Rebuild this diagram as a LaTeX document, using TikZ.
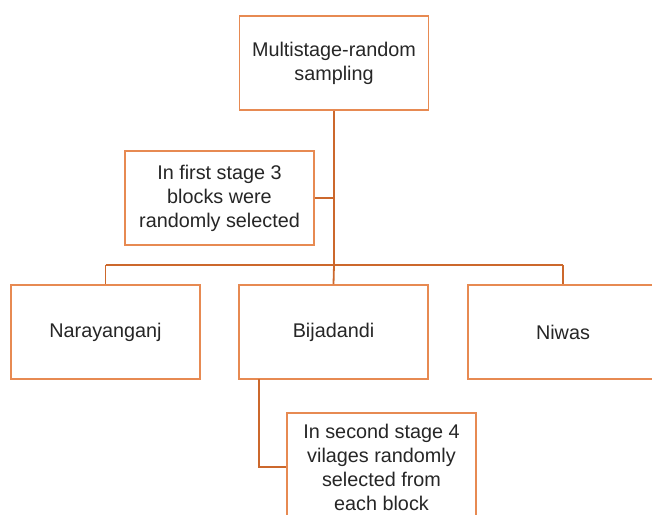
\documentclass[tikz,border=0pt]{standalone}
\usepackage{fontspec}
\setmainfont{Liberation Sans}
\definecolor{boxc}{RGB}{231,138,82}
\definecolor{linec}{RGB}{204,104,44}
\begin{document}
\begin{tikzpicture}[x=1pt,y=-1pt,
  box/.style={draw=boxc,line width=1.8pt,fill=white,minimum width=189pt,minimum height=94pt,
    align=center,inner sep=0pt,text=black!85,font=\fontsize{19.8}{24}\selectfont},
  conn/.style={draw=linec,line width=1.8pt}]
\clip (0,0) rectangle (652,514);
\fill[white] (0,0) rectangle (652,514);
\coordinate (busL) at (105.5,265);
\coordinate (busM) at (334,265);
\coordinate (busR) at (563,265);
\coordinate (bj) at (259,379);
\node[box] (top) at (334,63) {Multistage-random\\sampling};
\node[box] (first) at (219.5,198) {In first stage 3\\blocks were\\randomly selected};
\node[box] (nar) at (105.5,332) {Narayanganj};
\node[box] (bij) at (333.5,332) {Bijadandi};
\node[box,minimum width=190pt] (niw) at (563,332) {Niwas};
\node[box,minimum height=108pt] (second) at (381.5,467) {In second stage 4\\vilages randomly\\selected from\\each block};
\draw[conn] (top.south) -- (busM);
\draw[conn] (first.east) -- (first.east -| busM);
\draw[conn] (busL) -- (busR);
\draw[conn] (busL) -- (nar.north);
\draw[conn] (busM) -- (bij.north);
\draw[conn] (busR) -- (niw.north);
\draw[conn] (bj) |- (second.west);
\end{tikzpicture}
\end{document}
